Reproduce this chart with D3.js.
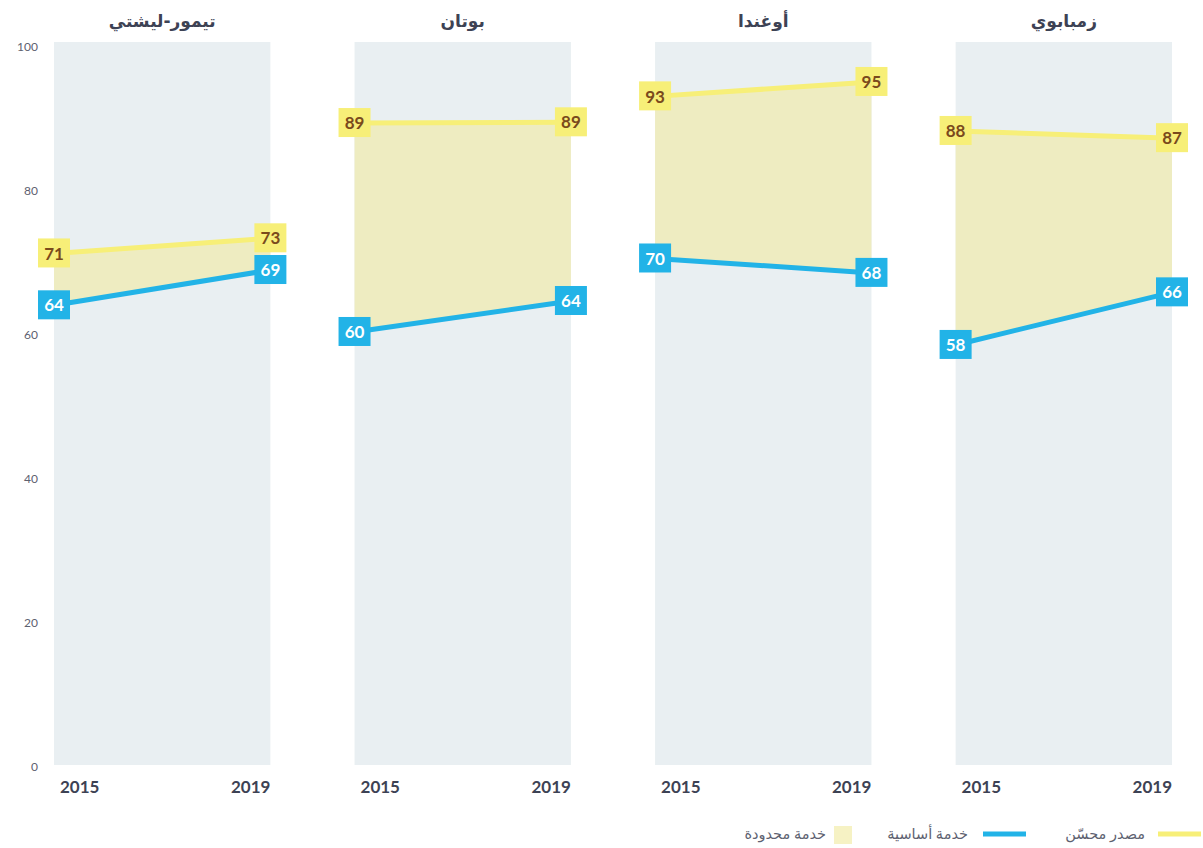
<!DOCTYPE html>
<html>
<head>
<meta charset="utf-8">
<script src="https://cdn.jsdelivr.net/npm/d3@7"></script>
<style>
  body { margin: 0; background: #fff; }
  svg text { font-family: Lato, "DejaVu Sans", sans-serif; }
</style>
</head>
<body>
<svg width="1203" height="848"></svg>
<script>
// countries (panel titles), years, series
var countries = ["تيمور-ليشتي", "بوتان", "أوغندا", "زمبابوي"];
var years = [2015, 2019];
var improved = [[71.0, 73.1], [89.1, 89.2], [92.8, 94.8], [88.0, 87.0]];   // مصدر محسّن
var basic = [[63.8, 68.7], [60.1, 64.4], [70.3, 68.3], [58.3, 65.6]];      // خدمة أساسية
var yTicks = [0, 20, 40, 60, 80, 100];
var legendLabels = ["مصدر محسّن", "خدمة أساسية", "خدمة محدودة"];

var yellow = "#f7ef78", blue = "#22b3e7", areaFill = "#eeecc1", panelBg = "#e9eff2";

var svg = d3.select("svg");

var panel = d3.scaleBand()
    .domain(d3.range(countries.length))
    .range([54, 1172])
    .paddingInner(0.28)
    .paddingOuter(0);

var y = d3.scaleLinear().domain([0, 100]).range([765, 44.5]);

// y axis labels
svg.append("g").selectAll("text")
    .data(yTicks)
  .enter().append("text")
    .attr("x", 38)
    .attr("y", function(d) { return y(d) + 2; })
    .attr("dy", "0.35em")
    .attr("text-anchor", "end")
    .attr("fill", "#5d6170")
    .style("font-size", "12px")
    .text(function(d) { return d; });

countries.forEach(function(name, i) {
  var x0 = panel(i), w = panel.bandwidth();
  var x = d3.scaleLinear().domain(d3.extent(years)).range([x0, x0 + w]);
  var g = svg.append("g");

  g.append("rect")
      .attr("x", x0).attr("y", 42)
      .attr("width", w).attr("height", y(0) - 42)
      .attr("fill", panelBg);

  g.append("text")
      .attr("x", x0 + w / 2).attr("y", 21)
      .attr("dy", "0.35em")
      .attr("text-anchor", "middle")
      .attr("fill", "#3d4254")
      .style("font-size", "17px")
      .style("font-weight", "bold")
      .style("font-family", "'DejaVu Sans', sans-serif")
      .text(name);

  var rows = years.map(function(yr, j) {
    return { year: yr, hi: improved[i][j], lo: basic[i][j] };
  });

  g.append("path")
      .datum(rows)
      .attr("fill", areaFill)
      .attr("d", d3.area()
        .x(function(d) { return x(d.year); })
        .y0(function(d) { return y(d.lo); })
        .y1(function(d) { return y(d.hi); }));

  [["hi", yellow], ["lo", blue]].forEach(function(s) {
    g.append("path")
        .datum(rows)
        .attr("fill", "none")
        .attr("stroke", s[1])
        .attr("stroke-width", 5)
        .attr("d", d3.line()
          .x(function(d) { return x(d.year); })
          .y(function(d) { return y(d[s[0]]); }));
  });

  [["hi", yellow, "#7a4a1c"], ["lo", blue, "#ffffff"]].forEach(function(s) {
    var lab = g.selectAll(".lab-" + s[0])
        .data(rows)
      .enter().append("g")
        .attr("transform", function(d) { return "translate(" + x(d.year) + "," + y(d[s[0]]) + ")"; });
    lab.append("rect")
        .attr("x", -16).attr("y", -15)
        .attr("width", 32).attr("height", 29)
        .attr("fill", s[1]);
    lab.append("text")
        .attr("text-anchor", "middle")
        .attr("dy", "0.36em")
        .attr("fill", s[2])
        .style("font-size", "17px")
        .style("font-weight", "bold")
        .text(function(d) { return Math.round(d[s[0]]); });
  });

  g.selectAll(".year")
      .data(years)
    .enter().append("text")
      .attr("x", function(d, j) { return j === 0 ? x(d) + 6 : x(d); })
      .attr("y", 787)
      .attr("dy", "0.35em")
      .attr("text-anchor", function(d, j) { return j === 0 ? "start" : "end"; })
      .attr("fill", "#3d4254")
      .style("font-size", "17px")
      .style("font-weight", "bold")
      .text(function(d) { return d; });
});

// legend
var lg = svg.append("g").attr("fill", "#5d6170").style("font-size", "14.5px")
    .style("font-family", "'DejaVu Sans', sans-serif");
lg.append("line").attr("x1", 1158).attr("x2", 1201).attr("y1", 834).attr("y2", 834)
    .attr("stroke", yellow).attr("stroke-width", 5);
lg.append("text").attr("x", 1145).attr("y", 834).attr("dy", "0.35em")
    .attr("text-anchor", "end").text(legendLabels[0]);
lg.append("line").attr("x1", 983).attr("x2", 1026).attr("y1", 834).attr("y2", 834)
    .attr("stroke", blue).attr("stroke-width", 5);
lg.append("text").attr("x", 968).attr("y", 834).attr("dy", "0.35em")
    .attr("text-anchor", "end").text(legendLabels[1]);
lg.append("rect").attr("x", 834).attr("y", 826).attr("width", 18).attr("height", 18)
    .attr("fill", "#f6f2c4");
lg.append("text").attr("x", 826).attr("y", 834).attr("dy", "0.35em")
    .attr("text-anchor", "end").text(legendLabels[2]);
</script>
</body>
</html>
